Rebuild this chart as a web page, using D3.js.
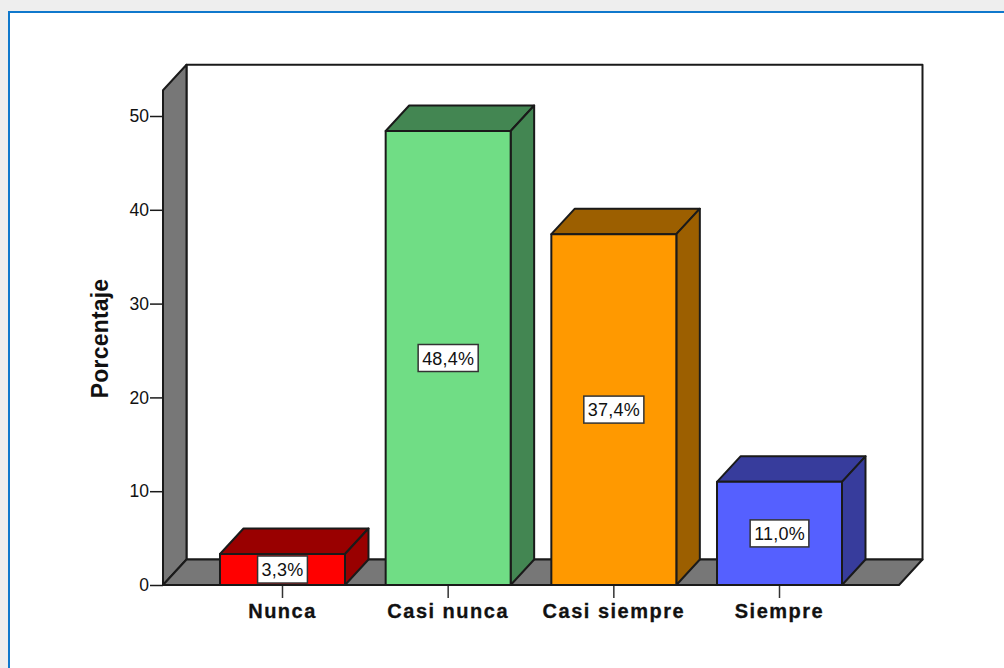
<!DOCTYPE html>
<html>
<head>
<meta charset="utf-8">
<script src="https://cdn.jsdelivr.net/npm/d3@7"></script>
<style>
  html, body { margin: 0; padding: 0; background: #fff; overflow: hidden; }
  svg { display: block; }
  text { font-family: "Liberation Sans", Arial, sans-serif; fill: #111; }
</style>
</head>
<body>
<svg id="chart" width="1004" height="668"></svg>
<script>
const categories = ["Nunca", "Casi nunca", "Casi siempre", "Siempre"];
const percentages = [3.3, 48.4, 37.4, 11.0];
const frontColors = ["#ff0000", "#70dd85", "#ff9900", "#5560ff"];
const sideColors = ["#990000", "#438652", "#9c5f00", "#373c9c"];
const yTicks = [0, 10, 20, 30, 40, 50];

const svg = d3.select("#chart");

// Window frame around the chart
svg.append("rect").attr("width", 1004).attr("height", 668).attr("fill", "#eeeeee");
svg.append("rect").attr("x", 9).attr("y", 12).attr("width", 1010).attr("height", 670)
  .attr("fill", "#fff").attr("stroke", "#0f78cc").attr("stroke-width", 2);

const y = d3.scaleLinear().domain([0, 50]).range([585, 116]);
const x = d3.scaleBand().domain(categories).range([199.67, 862.33])
  .paddingInner(0.2455).paddingOuter(0.1227);

// Oblique offset of the back planes
const dx = 23.5, dy = 25.5;
const wallLeft = 163, wallRight = 899, wallTop = y(52.75);
const line = d3.line();
const edge = { stroke: "#1a1a1a", "stroke-width": 2, "stroke-linejoin": "round" };
const poly = (pts, fill, parent = svg) => {
  const p = parent.append("path").attr("d", line(pts) + "Z").attr("fill", fill);
  Object.entries(edge).forEach(([k, v]) => p.attr(k, v));
  return p;
};

// Back wall, left wall and floor
poly([[wallLeft + dx, wallTop - dy], [wallRight + dx, wallTop - dy], [wallRight + dx, y(0) - dy], [wallLeft + dx, y(0) - dy]], "#ffffff");
poly([[wallLeft, wallTop], [wallLeft + dx, wallTop - dy], [wallLeft + dx, y(0) - dy], [wallLeft, y(0)]], "#777777");
poly([[wallLeft, y(0)], [wallLeft + dx, y(0) - dy], [wallRight + dx, y(0) - dy], [wallRight, y(0)]], "#777777");

// Value axis
const yAxis = svg.append("g").attr("transform", `translate(${wallLeft},0)`)
  .call(d3.axisLeft(y).tickValues(yTicks).tickSize(13).tickPadding(1));
yAxis.select(".domain").remove();
yAxis.selectAll("line").attr("stroke", "#1a1a1a").attr("stroke-width", 1.5);
yAxis.selectAll("text").attr("font-size", 17.5).style("font-family", "Liberation Sans").attr("fill", "#111");

// Category axis
const xAxis = svg.append("g").attr("transform", `translate(0,${y(0)})`)
  .call(d3.axisBottom(x).tickSize(13).tickPadding(6));
xAxis.select(".domain").remove();
xAxis.selectAll("line").attr("stroke", "#333").attr("stroke-width", 1.5);
xAxis.selectAll("text").attr("font-size", 20).attr("font-weight", "bold")
  .attr("letter-spacing", 1.5).attr("stroke", "#111").attr("stroke-width", 0.3)
  .style("font-family", "Liberation Sans").attr("fill", "#111");

svg.append("text").attr("transform", "translate(108,338.5) rotate(-90)")
  .attr("text-anchor", "middle").attr("font-size", 23).attr("font-weight", "bold")
  .attr("letter-spacing", 0.2).text("Porcentaje");

// Bars: front face, top face and side face
const bars = svg.append("g").selectAll("g").data(percentages).join("g");
bars.each(function (v, i) {
  const g = d3.select(this);
  const x0 = x(categories[i]), x1 = x0 + x.bandwidth();
  const yt = y(v), yb = y(0);
  poly([[x0, yt], [x0 + dx, yt - dy], [x1 + dx, yt - dy], [x1, yt]], sideColors[i], g);
  poly([[x1, yt], [x1 + dx, yt - dy], [x1 + dx, yb - dy], [x1, yb]], sideColors[i], g);
  poly([[x0, yt], [x1, yt], [x1, yb], [x0, yb]], frontColors[i], g);
});

// Value labels in the middle of each front face
bars.each(function (v, i) {
  const g = d3.select(this);
  const cx = x(categories[i]) + x.bandwidth() / 2;
  const cy = y(v / 2);
  const box = g.append("rect");
  const label = g.append("text").attr("x", cx).attr("y", cy + 6.5)
    .attr("text-anchor", "middle").attr("font-size", 18).attr("letter-spacing", 0.2)
    .text(v.toFixed(1).replace(".", ",") + "%");
  const w = label.node().getComputedTextLength() + 8;
  box.attr("x", cx - w / 2).attr("y", cy - 13.5).attr("width", w).attr("height", 27)
    .attr("fill", "#fff").attr("stroke", "#333").attr("stroke-width", 1.5);
});
</script>
</body>
</html>
